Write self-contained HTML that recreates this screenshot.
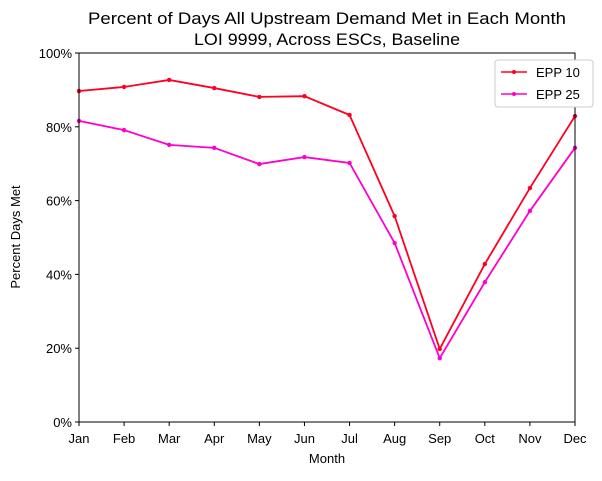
<!DOCTYPE html>
<html><head><meta charset="utf-8"><style>
body{margin:0;background:#fff;font-family:"Liberation Sans","DejaVu Sans",sans-serif;}
svg text{font-family:"Liberation Sans","DejaVu Sans",sans-serif;}
</style></head><body>
<svg id="chart" width="602" height="476" xmlns="http://www.w3.org/2000/svg">
<text x="327" y="24" font-size="16.5" textLength="478" lengthAdjust="spacingAndGlyphs" text-anchor="middle">Percent of Days All Upstream Demand Met in Each Month</text>
<text x="327" y="45" font-size="16.5" textLength="266" lengthAdjust="spacingAndGlyphs" text-anchor="middle">LOI 9999, Across ESCs, Baseline</text>
<g id="axes"></g>
<g id="series"></g>
<rect x="79" y="53" width="496" height="369" fill="none" stroke="#000" stroke-width="1"/>
<text x="327" y="463" font-size="13" text-anchor="middle">Month</text>
<text transform="translate(20,237) rotate(-90)" font-size="13" text-anchor="middle">Percent Days Met</text>
<g>
<rect x="495" y="60" width="98" height="47" rx="3" fill="#fff" stroke="#ccc"/>
<line x1="501" y1="72" x2="527" y2="72" stroke="#ff0022" stroke-width="1.5"/><circle cx="514" cy="72" r="2" fill="#ff0022"/>
<text x="536" y="77" font-size="13">EPP 10</text>
<line x1="501" y1="94" x2="527" y2="94" stroke="#ff00cc" stroke-width="1.5"/><circle cx="514" cy="94" r="2" fill="#ff00cc"/>
<text x="536" y="99" font-size="13">EPP 25</text>
</g>
</svg>
<script>
const months=["Jan","Feb","Mar","Apr","May","Jun","Jul","Aug","Sep","Oct","Nov","Dec"];
const epp10=[89.7,90.8,92.7,90.5,88.1,88.3,83.2,55.8,19.8,42.8,63.4,82.9];
const epp25=[81.6,79.1,75.1,74.3,69.9,71.8,70.2,48.5,17.3,37.9,57.2,74.3];
const yTicks=[0,20,40,60,80,100];
const NS="http://www.w3.org/2000/svg";
const x0=79,x1=575,y0=422,y1=53;
function xs(i){return x0+(x1-x0)*i/(months.length-1);}
function ys(v){return y0-(y0-y1)*v/100;}
const axes=document.getElementById('axes');
function mk(t,a,p){const e=document.createElementNS(NS,t);for(const k in a)e.setAttribute(k,a[k]);p.appendChild(e);return e;}
months.forEach((m,i)=>{
 const l=mk('line',{x1:xs(i),x2:xs(i),y1:y0,y2:y0+4,stroke:'#000'},axes);
 
 
 const t=mk('text',{x:xs(i),y:y0+21,'font-size':13,'text-anchor':'middle'},axes);t.textContent=m;
 
 
});
yTicks.forEach(v=>{
 const l=mk('line',{x1:x0-4,x2:x0,y1:ys(v),y2:ys(v),stroke:'#000'},axes);
 
 
 const t=mk('text',{x:x0-7,y:ys(v)+5,'font-size':13,'text-anchor':'end'},axes);t.textContent=v+'%';
 
 
});
const sg=document.getElementById('series');
function draw(vals,color,name){
 const p=mk('polyline',{points:vals.map((v,i)=>xs(i)+','+ys(v)).join(' '),fill:'none',stroke:color,'stroke-width':1.8},sg);
 
 
 vals.forEach((v,i)=>{const c=mk('circle',{cx:xs(i),cy:ys(v),r:2.2,fill:color},sg);
 
 });
}
draw(epp10,'#ff0022','epp10');
draw(epp25,'#ff00cc','epp25');
</script>
</body></html>
